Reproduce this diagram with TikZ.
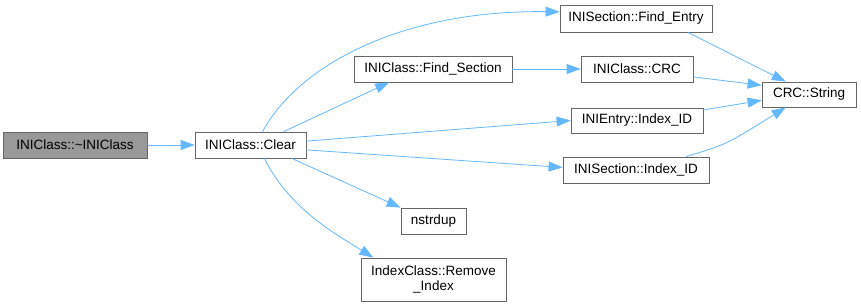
\documentclass[tikz,border=0pt]{standalone}
\usepackage{fontspec}
\setmainfont{Liberation Sans}
\usetikzlibrary{arrows.meta}
\definecolor{edgeblue}{HTML}{63B8FF}
\definecolor{boxgray}{HTML}{666666}
\definecolor{fillgray}{HTML}{999999}

\begin{document}
\begin{tikzpicture}[x=1pt, y=-1pt,
    fn/.style={draw=boxgray, fill=white, line width=0.8pt, inner sep=0pt,
      font=\fontsize{13.5}{15.5}\selectfont},
    call/.style={draw=edgeblue, line width=0.8pt,
      -{Triangle[length=14pt,width=10pt]}}]
  \useasboundingbox (0,0) rectangle (861,307);

  % functions
  \node[fn, fill=fillgray, minimum width=144, minimum height=26] (dtor) at (75, 145) {INIClass::\textasciitilde INIClass};
  \node[fn, minimum width=111, minimum height=26] (clear) at (250.5, 145) {INIClass::Clear};
  \node[fn, minimum width=152, minimum height=27] (findentry) at (636, 18.5) {INISection::Find\_Entry};
  \node[fn, minimum width=158, minimum height=26] (findsec) at (433, 69) {INIClass::Find\_Section};
  \node[fn, minimum width=112, minimum height=26] (crc) at (637, 69) {INIClass::CRC};
  \node[fn, minimum width=94, minimum height=25] (string) at (809, 94.5) {CRC::String};
  \node[fn, minimum width=132, minimum height=25] (entryid) at (637, 120.5) {INIEntry::Index\_ID};
  \node[fn, minimum width=146, minimum height=26] (sectid) at (636, 170) {INISection::Index\_ID};
  \node[fn, minimum width=65, minimum height=26] (nstrdup) at (433.5, 221) {nstrdup};
  \node[fn, minimum width=145, minimum height=43, align=center] (remidx) at (433.5, 279.5) {IndexClass::Remove\\\_Index};

  % calls
  \draw[call] (dtor) -- (clear);
  \draw[call] (clear.48) .. controls +(35,-65) and +(-160,-2) .. (findentry.175);
  \draw[call] (clear.22) -- (findsec.197);
  \draw[call] (clear.4) -- (entryid.west);
  \draw[call] (clear.355) -- (sectid.178);
  \draw[call] (clear.-18) -- (nstrdup.north west);
  \draw[call] (clear.-44) .. controls +(25,50) and +(-40,-25) .. (remidx.160);
  \draw[call] (findsec) -- (crc);
  \draw[call] (findentry.345) -- (string.151);
  \draw[call] (crc.352) -- (string.169);
  \draw[call] (entryid.9) -- (string.187);
  \draw[call] (sectid.15) .. controls +(40,-12) .. (string.209);
\end{tikzpicture}
\end{document}
